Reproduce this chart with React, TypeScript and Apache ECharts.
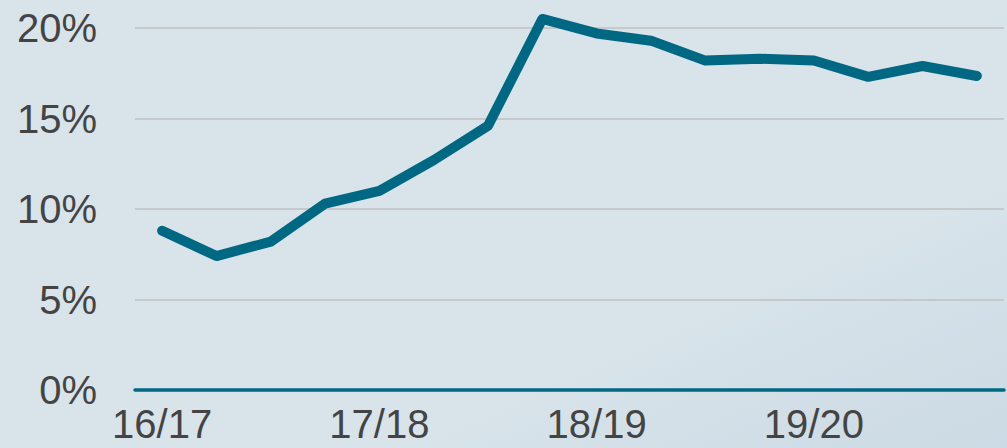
import React, { useEffect, useRef } from "react";
import * as echarts from "echarts";

const categories = [
  "16/17", "16/17 Q2", "16/17 Q3", "16/17 Q4",
  "17/18", "17/18 Q2", "17/18 Q3", "17/18 Q4",
  "18/19", "18/19 Q2", "18/19 Q3", "18/19 Q4",
  "19/20", "19/20 Q2", "19/20 Q3", "19/20 Q4",
];
const values = [8.8, 7.4, 8.2, 10.3, 11.0, 12.7, 14.6, 20.5, 19.7, 19.3, 18.2, 18.3, 18.2, 17.3, 17.9, 17.35];
const yTicks = [0, 5, 10, 15, 20];

export default function App() {
  const ref = useRef<HTMLDivElement>(null);
  useEffect(() => {
    if (!ref.current) return;
    const chart = echarts.init(ref.current, undefined, { renderer: "svg" });
    chart.setOption({
      animation: false,
      backgroundColor: {
        type: "linear", x: 0, y: 0, x2: 1, y2: 1,
        colorStops: [
          { offset: 0, color: "#d9e4ea" },
          { offset: 0.7, color: "#d8e3ea" },
          { offset: 1, color: "#cbdae4" },
        ],
      },
      grid: { left: 135, right: 3, top: 28, bottom: 58 },
      xAxis: {
        type: "category",
        data: categories,
        boundaryGap: true,
        axisLine: { show: true, lineStyle: { color: "#006882", width: 3.5 } },
        axisTick: { show: false },
        axisLabel: {
          interval: 3,
          formatter: (v: string) => v.split(" ")[0],
          color: "#444444",
          fontSize: 40,
          fontFamily: "Liberation Sans, Arial, sans-serif",
          margin: 14,
        },
        splitLine: { show: false },
      },
      yAxis: {
        type: "value",
        min: yTicks[0],
        max: yTicks[yTicks.length - 1],
        interval: 5,
        axisLine: { show: false },
        axisTick: { show: false },
        axisLabel: {
          formatter: (v: number) => `${v}%`,
          color: "#444444",
          fontSize: 40,
          fontFamily: "Liberation Sans, Arial, sans-serif",
          margin: 38,
        },
        splitLine: { show: true, lineStyle: { color: "#c0c0c0", width: 1.5 } },
      },
      series: [
        {
          type: "line",
          data: values,
          symbol: "none",
          clip: false,
          lineStyle: { color: "#006882", width: 10, join: "round", cap: "round" },
          z: 3,
        },
      ],
    });
    return () => chart.dispose();
  }, []);
  return <div ref={ref} style={{ width: 1007, height: 448, position: "absolute", left: 0, top: 0 }} />;
}
